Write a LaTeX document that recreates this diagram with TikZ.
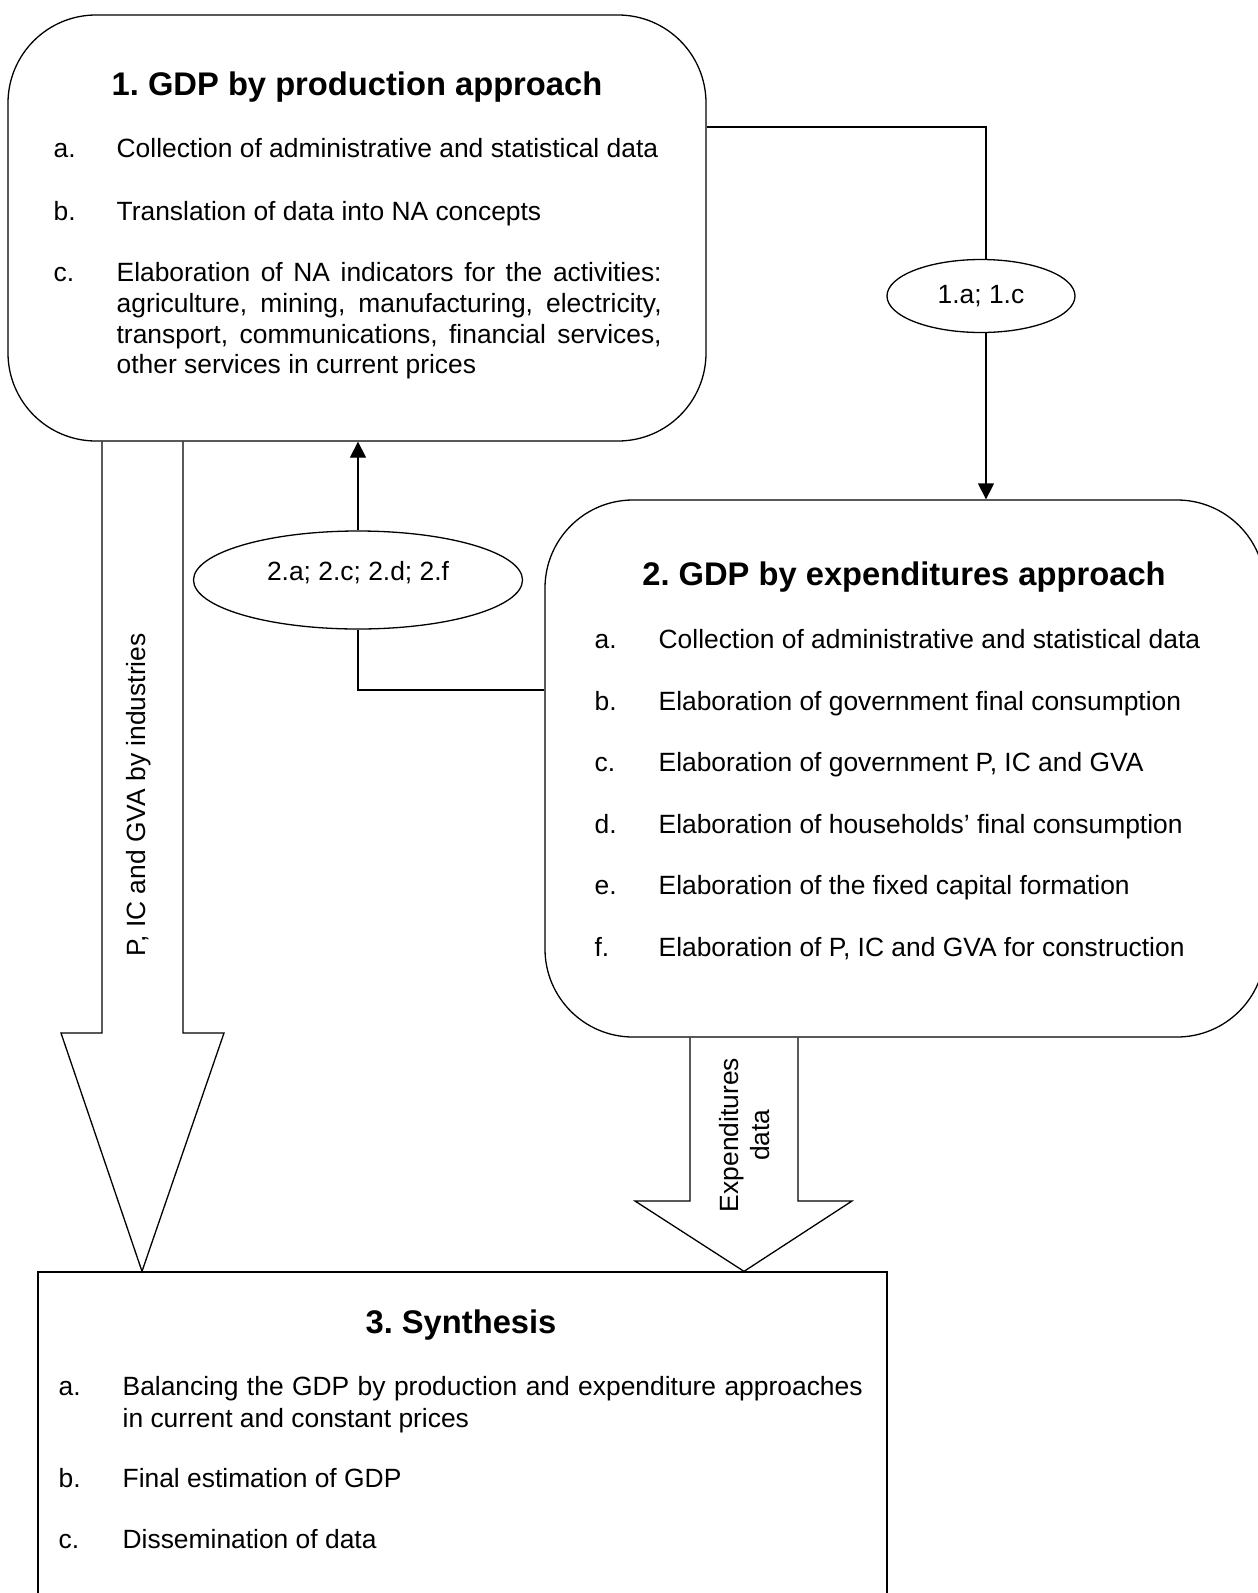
\documentclass[tikz,border=0pt]{standalone}
\usepackage{fontspec}
\setmainfont{Liberation Sans}
\usetikzlibrary{shapes.geometric,arrows.meta}
\frenchspacing
\begin{document}
\begin{tikzpicture}[x=1pt,y=-1pt,
  line width=1.3pt,
  bodyfont/.style={font=\fontsize{26.4}{30.7}\selectfont},
  titlefont/.style={font=\fontsize{32.7}{36}\selectfont\bfseries},
  itm/.style={bodyfont,anchor=base west,inner sep=0pt},
  ttl/.style={titlefont,anchor=base,inner sep=0pt},
  rbox/.style={draw,rectangle,rounded corners=88pt,inner sep=0pt},
  sbox/.style={draw,rectangle,inner sep=0pt},
  oval/.style={draw,ellipse,inner sep=0pt,bodyfont},
  arr/.style={-{Triangle[width=16pt,length=16pt]}},
  biglbl/.style={bodyfont,rotate=90,inner sep=0pt}
]
\clip (0,0) rectangle (1258,1593);
\fill[white] (0,0) rectangle (1258,1593);

% Box 1
\node[rbox,minimum width=698pt,minimum height=426pt] (b1) at (357,228) {};
\node[ttl] (t1) at (357,95) {1. GDP by production approach};
\node[itm] (l1a) at (53,157) {a.};
\node[itm] (x1a) at (116,157) {Collection of administrative and statistical data};
\node[itm] (l1b) at (53,220) {b.};
\node[itm] (x1b) at (116,220) {Translation of data into NA concepts};
\node[itm] (l1c) at (53,281) {c.};
\node[itm] (x1c1) at (116,281) {\makebox[545pt][s]{Elaboration of NA indicators for the activities:}};
\node[itm] (x1c2) at (116,312) {\makebox[545pt][s]{agriculture, mining, manufacturing, electricity,}};
\node[itm] (x1c3) at (116,343) {\makebox[545pt][s]{transport, communications, financial services,}};
\node[itm] (x1c4) at (116,373) {other services in current prices};

% Box 2
\node[rbox,minimum width=720pt,minimum height=537pt] (b2) at (905,768.5) {};
\node[ttl] (t2) at (904,585) {2. GDP by expenditures approach};
\node[itm] (l2a) at (594,648) {a.};
\node[itm] (x2a) at (658,648) {Collection of administrative and statistical data};
\node[itm] (l2b) at (594,710) {b.};
\node[itm] (x2b) at (658,710) {Elaboration of government final consumption};
\node[itm] (l2c) at (594,771) {c.};
\node[itm] (x2c) at (658,771) {Elaboration of government P, IC and GVA};
\node[itm] (l2d) at (594,833) {d.};
\node[itm] (x2d) at (658,833) {Elaboration of households’ final consumption};
\node[itm] (l2e) at (594,894) {e.};
\node[itm] (x2e) at (658,894) {Elaboration of the fixed capital formation};
\node[itm] (l2f) at (594,956) {f.};
\node[itm] (x2f) at (658,956) {Elaboration of P, IC and GVA for construction};

% Box 3
\node[sbox,minimum width=849pt,minimum height=368pt] (b3) at (462.5,1456) {};
\node[ttl] (t3) at (461,1333) {3. Synthesis};
\node[itm] (l3a) at (58,1395) {a.};
\node[itm] (x3a1) at (122,1395) {\makebox[740pt][s]{Balancing the GDP by production and expenditure approaches}};
\node[itm] (x3a2) at (122,1427) {in current and constant prices};
\node[itm] (l3b) at (58,1487) {b.};
\node[itm] (x3b) at (122,1487) {Final estimation of GDP};
\node[itm] (l3c) at (58,1548) {c.};
\node[itm] (x3c) at (122,1548) {Dissemination of data};

% Ellipses
\node[oval,minimum width=188pt,minimum height=73pt] (e1) at (981,296) {1.a; 1.c};
\node[oval,minimum width=329pt,minimum height=98pt] (e2) at (358,580) {\raisebox{18pt}{2.a; 2.c; 2.d; 2.f}};

% Connectors
\coordinate (c1) at (706,127);
\coordinate (c2) at (545,690);
\coordinate (c3) at (986,0);
\draw (b1.east |- c1) -| (c3 |- e1.north);
\draw[arr] (c3 |- e1.south) -- (c3 |- b2.north);
\draw[arr] (e2.north) -- (e2.north |- b1.south);
\draw (e2.south) |- (b2.west |- c2);

% Big arrow left
\draw[line join=miter] (102,0 |- b1.south) -- (102,1033) -- (61,1033) -- (142,0 |- b3.north)
  -- (224,1033) -- (183,1033) -- (183,0 |- b1.south);
\node[biglbl] (lp) at (139,795) {P, IC and GVA by industries};

% Big arrow right
\draw[line join=miter] (690,0 |- b2.south) -- (690,1201) -- (635,1201) -- (744,0 |- b3.north)
  -- (852,1201) -- (798,1201) -- (798,0 |- b2.south);
\node[biglbl,align=center,font=\fontsize{26.4}{31}\selectfont] (le) at (745,1135) {Expenditures\\data};
\end{tikzpicture}
\end{document}
